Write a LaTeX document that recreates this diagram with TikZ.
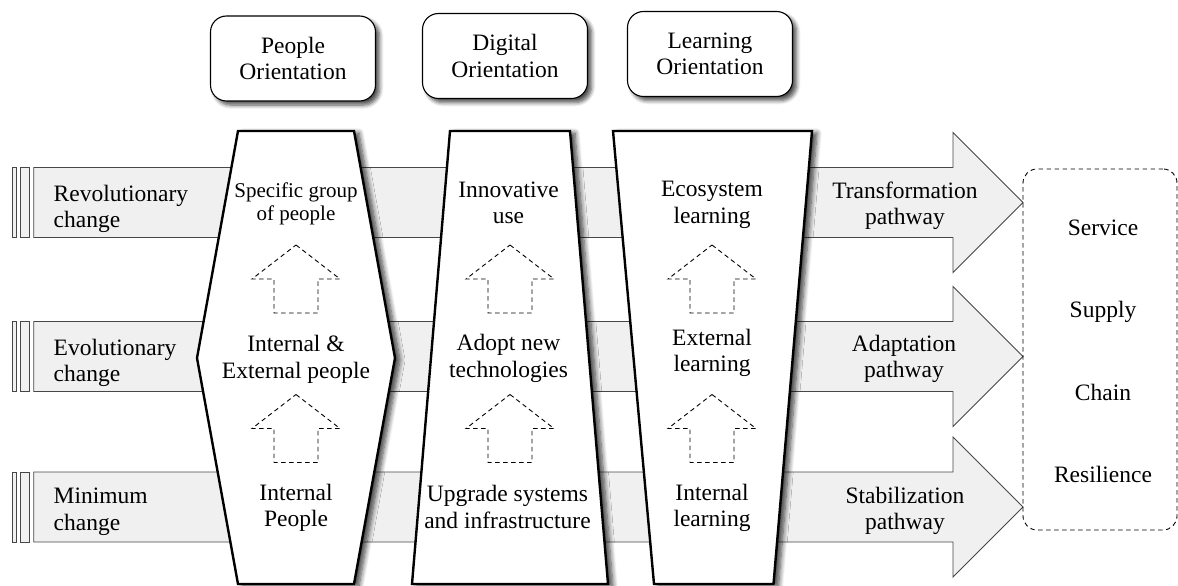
\documentclass[tikz,border=0pt]{standalone}
\usepackage{fontspec}
\setmainfont{Liberation Serif}
\usetikzlibrary{shadows.blur}

\begin{document}
\begin{tikzpicture}[x=1pt,y=-1pt,
  txt/.style={font=\fontsize{23.5}{26.5}\selectfont, align=center, inner sep=0pt},
  smalltxt/.style={font=\fontsize{21}{22.5}\selectfont, align=center, inner sep=0pt},
  lefttxt/.style={font=\fontsize{23.5}{26.5}\selectfont, align=left, inner sep=0pt, anchor=west},
  band/.style={draw=black!72, line width=0.9pt, fill=black!6},
  colshape/.style={draw=black, line width=2.4pt, fill=white, line join=miter,
    blur shadow={shadow xshift=5pt, shadow yshift=-2pt, shadow blur steps=8, shadow blur radius=5pt, shadow opacity=75}},
  headbox/.style={draw=black, line width=1.1pt, fill=white, rounded corners=16pt,
    minimum width=165pt, minimum height=85pt, align=center, inner sep=0pt,
    font=\fontsize{23.5}{26.5}\selectfont,
    blur shadow={shadow xshift=4pt, shadow yshift=-4pt, shadow blur steps=6, shadow blur radius=4pt, shadow opacity=70}},
  dashline/.style={draw=black, line width=0.9pt, dash pattern=on 4.5pt off 3.5pt},
  pics/uparr/.style={code={
    \draw[dashline] (0,0) -- (44,34) -- (22,34) -- (22,68) -- (-22,68) -- (-22,34) -- (-44,34) -- cycle;
  }}
]
\useasboundingbox (0,0) rectangle (1178,586);

% ---- horizontal band arrows ----
\foreach \c/\nm in {202.5/r1,356.5/r2,507/r3}{
  \draw[band] (12.3,\c-35) rectangle (16.7,\c+35);
  \draw[band] (20.7,\c-35) rectangle (29.3,\c+35);
  \draw[band] (33.7,\c-35) -- (953,\c-35) -- (953,\c-70) -- (1023,\c)
     -- (953,\c+70) -- (953,\c+35) -- (33.7,\c+35) -- cycle;
  \coordinate (\nm tip) at (1023,\c);
}

% ---- left labels ----
\node[lefttxt] (lab1) at (53.5,209) {Revolutionary\\change};
\node[lefttxt] (lab2) at (53.5,363) {Evolutionary\\change};
\node[lefttxt] (lab3) at (53.5,512) {Minimum\\change};

% ---- pathway labels ----
\node[txt] (pw1) at (905,206) {Transformation\\pathway};
\node[txt] (pw2) at (904,359) {Adaptation\\pathway};
\node[txt] (pw3) at (905,511) {Stabilization\\pathway};

% ---- columns ----
\path[colshape] (238,131) -- (354,131) -- (395,358) -- (354,584) -- (238,584) -- (197,358) -- cycle;
\path[colshape] (450,131) -- (570,131) -- (608,584) -- (412,584) -- cycle;
\path[colshape] (613,131) -- (812,131) -- (773.5,584) -- (654,584) -- cycle;

% ---- header boxes ----
\node[headbox] (hp) at (293,58.5) {People\\Orientation};
\node[headbox] (hd) at (505,56) {Digital\\Orientation};
\node[headbox] (hl) at (710,54) {Learning\\Orientation};

% ---- column texts ----
\node[smalltxt] (p1) at (296,204) {Specific group\\of people};
\node[txt] (p2) at (296,359.5) {Internal \&\\External people};
\node[txt] (p3) at (296,508) {Internal\\People};

\node[txt] (d1) at (508.5,203) {Innovative\\use};
\node[txt] (d2) at (508.5,358.5) {Adopt new\\technologies};
\node[txt] (d3) at (507.5,507) {Upgrade systems\\and infrastructure};

\node[txt] (l1) at (712,205) {Ecosystem\\learning};
\node[txt] (l2) at (712,353) {External\\learning};
\node[txt] (l3) at (712,508) {Internal\\learning};

% ---- dashed upward arrows ----
\foreach \x in {296,510,712}{
  \pic at (\x,245) {uparr};
  \pic at (\x,394.5) {uparr};
}

% ---- outcome box ----
\node[dashline, rounded corners=14pt, minimum width=154pt, minimum height=361pt, inner sep=0pt] (ssc) at (1100,349.5) {};
\node[font=\fontsize{23.5}{26.5}\selectfont, anchor=base, inner sep=0pt] (s1) at (1103,235) {Service};
\node[font=\fontsize{23.5}{26.5}\selectfont, anchor=base, inner sep=0pt] (s2) at (1103,317) {Supply};
\node[font=\fontsize{23.5}{26.5}\selectfont, anchor=base, inner sep=0pt] (s3) at (1103,400) {Chain};
\node[font=\fontsize{23.5}{26.5}\selectfont, anchor=base, inner sep=0pt] (s4) at (1103,482.5) {Resilience};
\end{tikzpicture}
\end{document}
